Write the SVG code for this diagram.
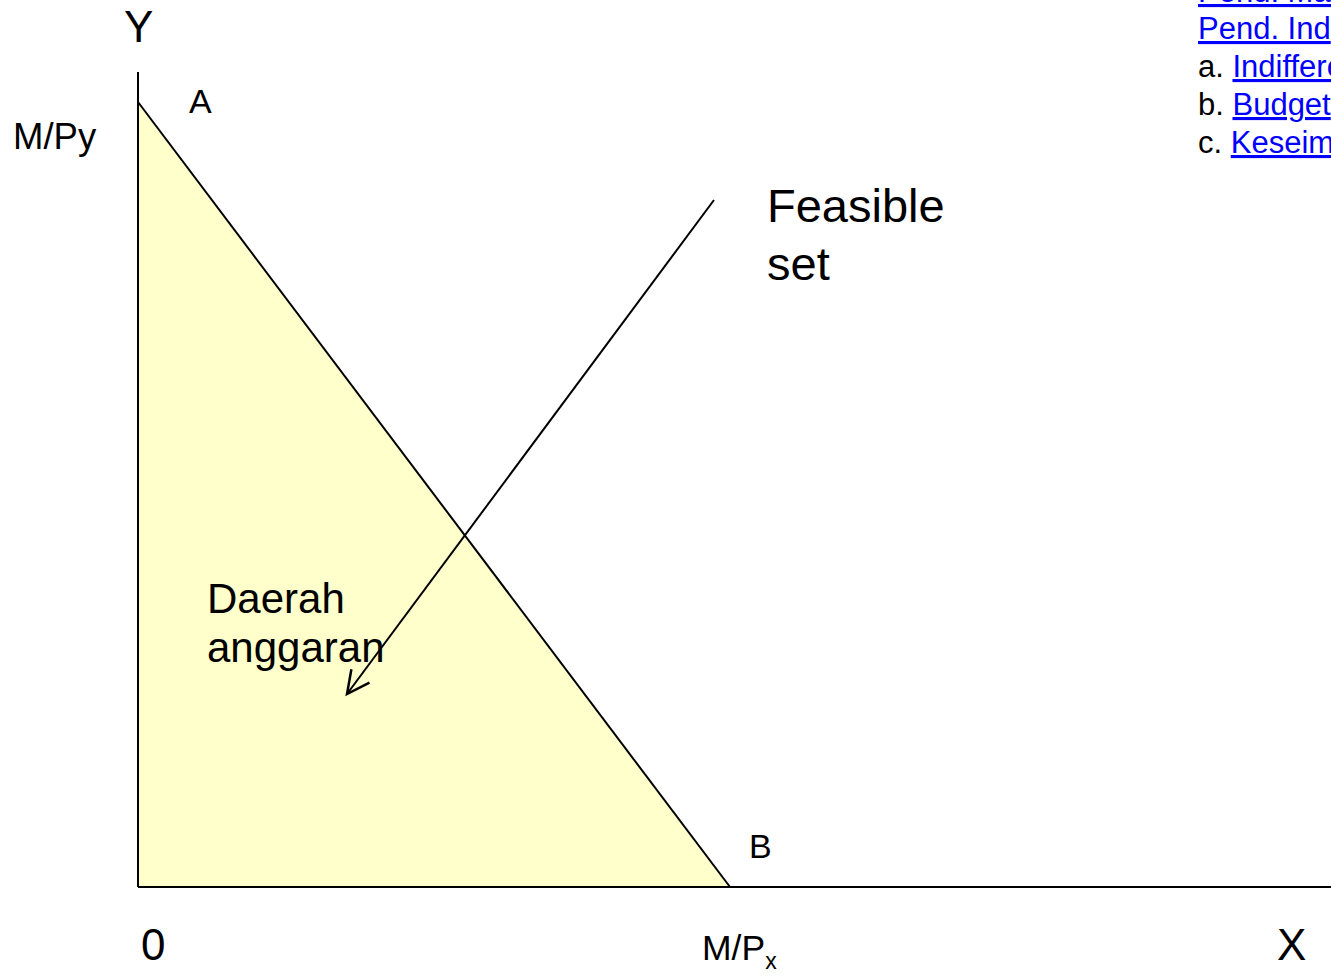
<svg xmlns="http://www.w3.org/2000/svg" width="1331" height="980" viewBox="0 0 1331 980">
<defs>
<style>
text{font-family:"Liberation Sans",Arial,sans-serif;fill:#000}
.lk{fill:#0000FF;text-decoration:underline}
.ln{stroke:#000;stroke-width:2;fill:none}
</style>
<marker id="ah" markerWidth="30" markerHeight="30" refX="0" refY="0" viewBox="-20 -12 24 24" orient="auto" markerUnits="userSpaceOnUse">
<path d="M-18,-9 L0,0 L-18,9" fill="none" stroke="#000" stroke-width="2"/>
</marker>
</defs>
<rect width="1331" height="980" fill="#fff"/>
<g id="region">
<polygon points="138,102 730,887 138,887" fill="#FFFFCC"/>
</g>
<g id="connectors">
<line class="ln" x1="138" y1="72" x2="138" y2="887"/>
<line class="ln" x1="138" y1="887" x2="1331" y2="887"/>
<line class="ln" x1="138" y1="102" x2="730" y2="887"/>
<line class="ln" x1="714" y1="200" x2="347" y2="694" marker-end="url(#ah)"/>
</g>
<g id="labels">
<text x="124" y="42" font-size="44">Y</text>
<text x="13" y="149" font-size="36.5">M/Py</text>
<text x="189" y="113" font-size="34">A</text>
<text x="767" y="222" font-size="47">Feasible</text>
<text x="767" y="280" font-size="47">set</text>
<text x="207" y="613" font-size="42">Daerah</text>
<text x="207" y="662" font-size="42">anggaran</text>
<text x="749" y="858" font-size="34">B</text>
<text x="141" y="960" font-size="44">0</text>
<text x="702" y="960" font-size="35.5">M/P<tspan font-size="23" dy="9">x</tspan></text>
<text x="1277" y="960" font-size="44">X</text>
</g>
<g id="links">
<text x="1198" y="2" font-size="31" class="lk">Pend. Mat</text>
<text x="1198" y="39" font-size="31" class="lk">Pend. Ind</text>
<text x="1198" y="77" font-size="31">a. <tspan class="lk">Indifferent</tspan></text>
<text x="1198" y="115" font-size="31">b. <tspan class="lk">Budget</tspan></text>
<text x="1198" y="153" font-size="31">c. <tspan class="lk">Keseimbangan</tspan></text>
</g>
</svg>
